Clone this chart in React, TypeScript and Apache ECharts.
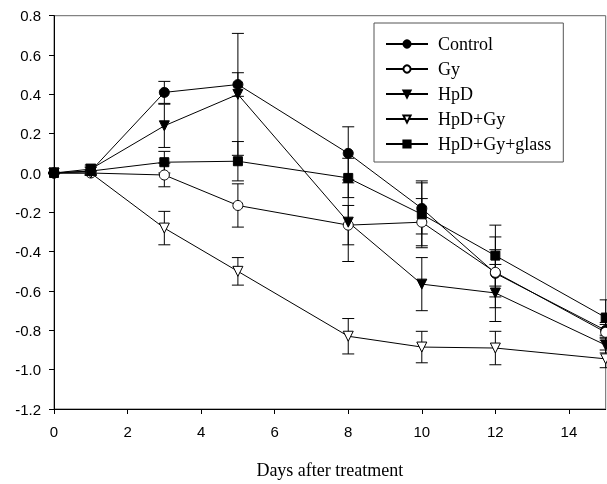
import React, { useEffect, useRef } from "react";
import * as echarts from "echarts";

const days = [0, 1, 3, 5, 8, 10, 12, 15];
const xTicks = [0, 2, 4, 6, 8, 10, 12, 14];

const controlVals = [0, 0.01, 0.41, 0.45, 0.1, -0.18, -0.51, -0.8];
const controlErr = [0, 0.02, 0.056, 0.06, 0.135, 0.13, 0.12, 0.04];
const gyVals = [0, 0, -0.01, -0.165, -0.265, -0.25, -0.505, -0.81];
const gyErr = [0, 0.01, 0.06, 0.11, 0.1, 0.12, 0.18, 0.04];
const hpdVals = [0, 0.02, 0.24, 0.4, -0.25, -0.565, -0.61, -0.875];
const hpdErr = [0, 0.02, 0.11, 0.31, 0.2, 0.135, 0.145, 0.04];
const hpdGyVals = [0, 0, -0.28, -0.5, -0.83, -0.885, -0.89, -0.945];
const hpdGyErr = [0, 0.01, 0.085, 0.07, 0.09, 0.08, 0.085, 0.045];
const glassVals = [0, 0.01, 0.055, 0.06, -0.025, -0.21, -0.42, -0.735];
const glassErr = [0, 0.02, 0.055, 0.1, 0.1, 0.17, 0.155, 0.09];

const seriesDefs = [
  { name: "Control", vals: controlVals, err: controlErr, symbol: "circle", fill: "#000", size: 10, rotate: 0 },
  { name: "Gy", vals: gyVals, err: gyErr, symbol: "circle", fill: "#fff", size: 10, rotate: 0 },
  { name: "HpD", vals: hpdVals, err: hpdErr, symbol: "triangle", fill: "#000", size: 10, rotate: 180 },
  { name: "HpD+Gy", vals: hpdGyVals, err: hpdGyErr, symbol: "triangle", fill: "#fff", size: 10, rotate: 180 },
  { name: "HpD+Gy+glass", vals: glassVals, err: glassErr, symbol: "rect", fill: "#000", size: 9, rotate: 0 },
];

export default function App() {
  const ref = useRef<HTMLDivElement>(null);
  useEffect(() => {
    if (!ref.current) return;
    const chart = echarts.init(ref.current, null, { renderer: "svg" });

    const errSeries = seriesDefs.map((s) => ({
      type: "custom",
      name: s.name + "-err",
      silent: true,
      z: 1,
      data: days.map((d, i) => [d, s.vals[i] - s.err[i], s.vals[i] + s.err[i]]),
      encode: { x: 0, y: [1, 2] },
      renderItem: (params: any, api: any) => {
        const x = api.value(0);
        const lo = api.coord([x, api.value(1)]);
        const hi = api.coord([x, api.value(2)]);
        const hw = 6;
        const style = { stroke: "#000", lineWidth: 1 };
        return {
          type: "group",
          children: [
            { type: "line", shape: { x1: lo[0], y1: lo[1], x2: hi[0], y2: hi[1] }, style },
            { type: "line", shape: { x1: lo[0] - hw, y1: lo[1], x2: lo[0] + hw, y2: lo[1] }, style },
            { type: "line", shape: { x1: hi[0] - hw, y1: hi[1], x2: hi[0] + hw, y2: hi[1] }, style },
          ],
        };
      },
    }));

    const lineSeries = seriesDefs.map((s) => ({
      type: "line",
      name: s.name,
      z: 3,
      data: days.map((d, i) => [d, s.vals[i]]),
      symbol: s.symbol,
      symbolSize: s.size,
      symbolRotate: s.rotate,
      showAllSymbol: true,
      lineStyle: { color: "#000", width: 1 },
      itemStyle: { color: s.fill, borderColor: "#000", borderWidth: 1 },
      emphasis: { disabled: true },
    }));

    chart.setOption({
      animation: false,
      grid: {
        left: 54,
        right: 1.3,
        top: 15.7,
        bottom: 68.3,
        show: true,
        borderColor: "#666",
        borderWidth: 1,
        backgroundColor: "transparent",
      },
      legend: {
        orient: "vertical",
        left: 374,
        top: 23,
        data: seriesDefs.map((s) => s.name),
        borderColor: "#555",
        borderWidth: 1,
        padding: [11, 12, 8, 11],
        itemGap: 5,
        itemWidth: 42,
        itemHeight: 9,
        selectedMode: false,
        textStyle: {
          fontFamily: "Liberation Serif",
          fontSize: 18,
          color: "#000",
          lineHeight: 20,
          padding: [0, 0, 0, 5],
        },
      },
      xAxis: {
        type: "value",
        min: 0,
        max: 15,
        interval: 2,
        name: "Days after treatment",
        nameLocation: "middle",
        nameGap: 52,
        nameTextStyle: { fontFamily: "Liberation Serif", fontSize: 18, color: "#000" },
        axisLine: { onZero: false, lineStyle: { color: "#000", width: 1 } },
        axisTick: { show: true, length: 5, lineStyle: { color: "#000" }, customValues: xTicks },
        axisLabel: {
          color: "#000",
          fontFamily: "Liberation Sans",
          fontSize: 15,
          margin: 15,
          customValues: xTicks,
        },
        splitLine: { show: false },
      },
      yAxis: {
        type: "value",
        min: -1.2,
        max: 0.8,
        interval: 0.2,
        axisLine: { show: true, onZero: false, lineStyle: { color: "#000", width: 1 } },
        axisTick: { show: true, length: 5, lineStyle: { color: "#000" } },
        axisLabel: {
          color: "#000",
          fontFamily: "Liberation Sans",
          fontSize: 15,
          margin: 13,
          formatter: (v: number) => v.toFixed(1),
        },
        splitLine: { show: false },
      },
      series: [...errSeries, ...lineSeries],
    });
    return () => chart.dispose();
  }, []);
  return (
    <div
      ref={ref}
      style={{ position: "fixed", left: 0, top: 0, width: 607, height: 484 }}
    />
  );
}
